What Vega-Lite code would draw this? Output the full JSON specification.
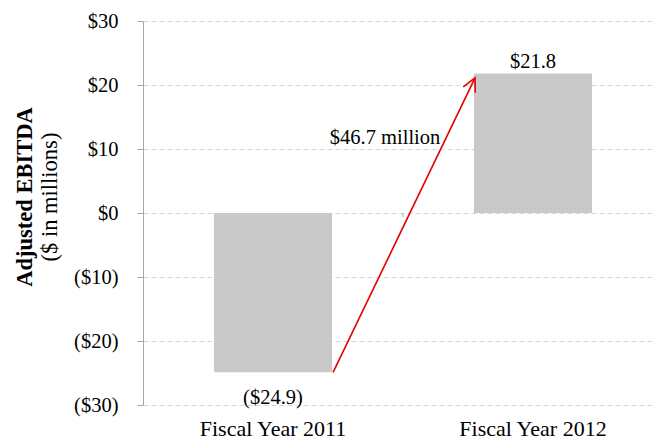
{
  "$schema": "https://vega.github.io/schema/vega-lite/v6.json",
  "width": 512,
  "height": 384,
  "autosize": "none",
  "padding": {"left": 143, "top": 21, "right": 0, "bottom": 39},
  "background": "white",
  "config": {"font": "Liberation Serif", "view": {"stroke": null}},
  "title": {
    "text": "Adjusted EBITDA",
    "subtitle": "($ in millions)",
    "orient": "left",
    "anchor": "middle",
    "offset": 12,
    "dx": 16,
    "fontSize": 22.5,
    "fontWeight": "bold",
    "font": "Liberation Serif",
    "color": "#000000",
    "subtitleFont": "Liberation Serif",
    "subtitleFontSize": 22.5,
    "subtitleColor": "#000000",
    "subtitlePadding": 3
  },
  "datasets": {
    "bars": [
      {"year": "Fiscal Year 2011", "value": -24.9, "label": "($24.9)"},
      {"year": "Fiscal Year 2012", "value": 21.8, "label": "$21.8"}
    ],
    "arrow": [
      {"pos": 0.731, "value": -24.9},
      {"pos": 1.277, "value": 21.1}
    ],
    "head": [
      {"pos": 1.277, "value": 21.1}
    ],
    "note": [
      {"pos": 0.931, "value": 11.7, "text": "$46.7 million"}
    ],
    "boundary": [
      {"pos": 1, "value": 0, "value2": -0.6}
    ]
  },
  "layer": [
    {
      "data": {"name": "bars"},
      "mark": {"type": "bar", "color": "#c9c9c9"},
      "encoding": {
        "x": {
          "field": "year", "type": "nominal", "sort": null,
          "scale": {"range": [0, 520], "paddingInner": 0.546, "paddingOuter": 0.273},
          "axis": {"title": null, "domain": false, "ticks": false, "labelAngle": 0, "labelFontSize": 22, "labelColor": "#000000", "labelPadding": 13, "labelFont": "Liberation Serif"}
        },
        "y": {
          "field": "value", "type": "quantitative",
          "scale": {"domain": [-30, 30], "nice": false, "zero": false},
          "axis": {
            "title": null,
            "values": [-30, -20, -10, 0, 10, 20, 30],
            "labelExpr": "datum.value < 0 ? '($' + abs(datum.value) + ')' : '$' + datum.value",
            "labelFontSize": 20.5, "labelColor": "#000000", "labelFont": "Liberation Serif",
            "labelPadding": 19, "tickSize": 6, "tickColor": "#a6a6a6", "domainColor": "#a6a6a6",
            "grid": true, "gridColor": "#d6d6d6", "gridDash": [5, 3]
          }
        }
      }
    },
    {
      "data": {"name": "bars"},
      "mark": {"type": "text", "fontSize": 20.5, "font": "Liberation Serif", "color": "#000000", "baseline": "middle", "dy": {"expr": "datum.value < 0 ? 26 : -11"}},
      "encoding": {
        "x": {"field": "year", "type": "nominal", "sort": null, "axis": null,
              "scale": {"range": [0, 520], "paddingInner": 0.546, "paddingOuter": 0.273}},
        "y": {"field": "value", "type": "quantitative"},
        "text": {"field": "label"}
      }
    },
    {
      "mark": {"type": "rule", "color": "#a6a6a6", "strokeWidth": 1.5},
      "encoding": {"y": {"datum": 0, "type": "quantitative"}}
    },
    {
      "data": {"name": "boundary"},
      "mark": {"type": "rule", "color": "#a6a6a6", "strokeWidth": 1},
      "encoding": {
        "x": {"field": "pos", "type": "quantitative", "scale": {"domain": [0, 2], "range": [0, 520]}, "axis": null},
        "y": {"field": "value", "type": "quantitative"},
        "y2": {"field": "value2"}
      }
    },
    {
      "data": {"name": "arrow"},
      "mark": {"type": "line", "color": "#e00000", "strokeWidth": 1.6},
      "encoding": {
        "x": {"field": "pos", "type": "quantitative", "scale": {"domain": [0, 2], "range": [0, 520]}, "axis": null},
        "y": {"field": "value", "type": "quantitative"}
      }
    },
    {
      "data": {"name": "head"},
      "mark": {"type": "point", "shape": "M -0.5 1 L 0 0 L 0.5 1", "filled": false, "stroke": "#e00000", "strokeWidth": 1.6, "size": 700, "angle": 26, "opacity": 1},
      "encoding": {
        "x": {"field": "pos", "type": "quantitative", "scale": {"domain": [0, 2], "range": [0, 520]}, "axis": null},
        "y": {"field": "value", "type": "quantitative"}
      }
    },
    {
      "data": {"name": "note"},
      "mark": {"type": "text", "fontSize": 20.5, "font": "Liberation Serif", "color": "#000000", "baseline": "middle"},
      "encoding": {
        "x": {"field": "pos", "type": "quantitative", "scale": {"domain": [0, 2], "range": [0, 520]}, "axis": null},
        "y": {"field": "value", "type": "quantitative"},
        "text": {"field": "text"}
      }
    }
  ],
  "resolve": {"scale": {"x": "independent"}}
}
